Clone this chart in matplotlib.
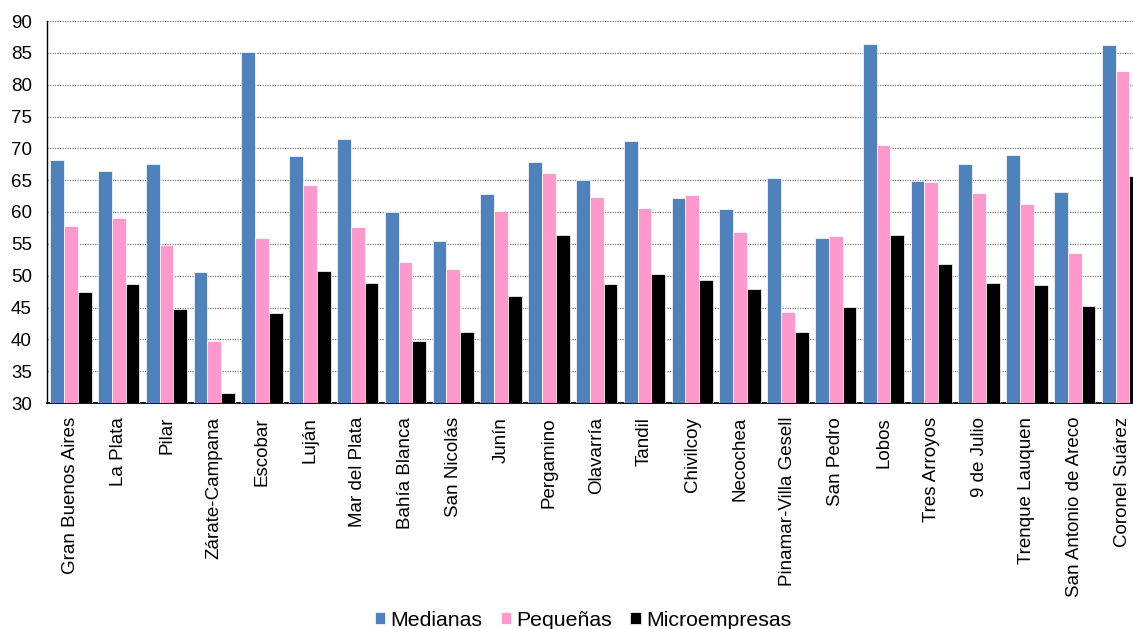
import matplotlib
matplotlib.use("Agg")
import matplotlib.pyplot as plt
import numpy as np

categories = ["Gran Buenos Aires", "La Plata", "Pilar", "Zárate-Campana", "Escobar",
              "Luján", "Mar del Plata", "Bahía Blanca", "San Nicolás", "Junín",
              "Pergamino", "Olavarría", "Tandil", "Chivilcoy", "Necochea",
              "Pinamar-Villa Gesell", "San Pedro", "Lobos", "Tres Arroyos", "9 de Julio",
              "Trenque Lauquen", "San Antonio de Areco", "Coronel Suárez"]
medianas = [68.2, 66.5, 67.6, 50.5, 85.1, 68.8, 71.4, 60.0, 55.5, 62.8,
            67.9, 65.1, 71.1, 62.2, 60.4, 65.4, 55.9, 86.4, 64.8, 67.5,
            68.9, 63.2, 86.3]
pequenas = [57.8, 59.0, 54.8, 39.8, 55.9, 64.3, 57.6, 52.1, 51.0, 60.1,
            66.2, 62.4, 60.7, 62.6, 56.8, 44.3, 56.3, 70.6, 64.7, 63.0,
            61.2, 53.5, 82.2]
micro = [47.4, 48.7, 44.8, 31.6, 44.2, 50.8, 48.9, 39.8, 41.2, 46.8,
         56.4, 48.7, 50.3, 49.3, 47.9, 41.1, 45.1, 56.4, 51.9, 48.9,
         48.5, 45.3, 65.6]
series_names = ["Medianas", "Pequeñas", "Microempresas"]
yticks = list(range(30, 91, 5))

plt.rcParams['font.family'] = ['Liberation Sans', 'DejaVu Sans']

W, H = 1133, 629
fig = plt.figure(figsize=(W / 100, H / 100), dpi=100)
left, right, bottom, top = 47, 1146.4, 403, 21
ax = fig.add_axes([left / W, 1 - bottom / H, (right - left) / W, (bottom - top) / H])

x = np.arange(len(categories))
bw = 0.29
colors = ["#4F81BD", "#FF99CC", "#000000"]
for i, (vals, col, name) in enumerate(zip([medianas, pequenas, micro], colors, series_names)):
    ax.bar(x + (i - 1) * bw, vals, width=bw, color=col, edgecolor="white",
           linewidth=0.5, label=name, zorder=3)

ax.set_xlim(-0.5, len(categories) - 0.5)
ax.set_ylim(30, 90)
ax.set_yticks(yticks)
ax.set_yticklabels([str(t) for t in yticks], fontsize=13.5)
ax.set_xticks(x)
ax.set_xticklabels(categories, rotation=90, fontsize=13.5, va="top", ha="center")
ax.tick_params(axis="x", length=0, pad=10)
ax.tick_params(axis="y", length=0, pad=11)
ax.yaxis.grid(True, linestyle=(0, (1, 1)), color="#808080", linewidth=0.9, zorder=0)
ax.set_axisbelow(True)
for s in ["top", "right"]:
    ax.spines[s].set_visible(False)
ax.spines["left"].set_linewidth(1.0)
ax.spines["bottom"].set_linewidth(1.3)
ax.spines["left"].set_color("black")
ax.spines["bottom"].set_color("black")

handles, labels = ax.get_legend_handles_labels()
fig.legend(handles, labels, loc="center", bbox_to_anchor=(583 / W, 1 - 620 / H),
           ncol=3, frameon=False, fontsize=15.3, handlelength=0.5, handleheight=0.5,
           handletextpad=0.25, columnspacing=0.85, borderaxespad=0)

fig.savefig("out.png", dpi=100)
